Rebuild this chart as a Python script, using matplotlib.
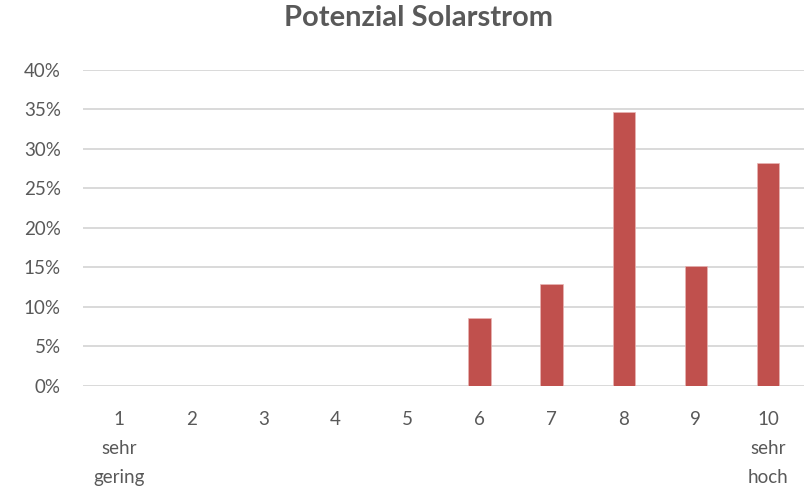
import matplotlib.pyplot as plt
from matplotlib.ticker import PercentFormatter

plt.rcParams['font.family'] = ['Lato', 'DejaVu Sans']

categories = ['1\nsehr\ngering', '2', '3', '4', '5', '6', '7', '8', '9', '10\nsehr\nhoch']
shares = [0, 0, 0, 0, 0, 0.0866, 0.1296, 0.3468, 0.1515, 0.2819]
yticks = [0, 0.05, 0.10, 0.15, 0.20, 0.25, 0.30, 0.35, 0.40]

textcol = '#595959'
barcol = '#C0504D'

fig = plt.figure(figsize=(8.06, 4.88), dpi=100)
ax = fig.add_axes([0.103, 0.209, 0.8945, 0.648])

x = range(len(categories))
ax.bar(x, shares, width=0.31, color=barcol, edgecolor='#E8B5B4', linewidth=0.5, zorder=3)

ax.set_xlim(-0.5, len(categories) - 0.5)
ax.set_ylim(0, 0.4)
ax.set_yticks(yticks)
ax.yaxis.set_major_formatter(PercentFormatter(1.0, decimals=0))
ax.set_xticks(list(x))
ax.set_xticklabels(categories, linespacing=1.85, va='top')

ax.grid(axis='y', color='#D9D9D9', linewidth=1.4, zorder=0)
for s in ['top', 'right', 'left', 'bottom']:
    ax.spines[s].set_visible(False)
ax.tick_params(axis='both', length=0, labelsize=13.5, colors=textcol)
ax.tick_params(axis='y', pad=16)
ax.tick_params(axis='x', pad=18)

fig.suptitle('Potenzial Solarstrom', x=0.519, y=0.99, fontsize=21,
             fontweight='bold', color=textcol)

fig.savefig('out.png', dpi=100, facecolor='white')
